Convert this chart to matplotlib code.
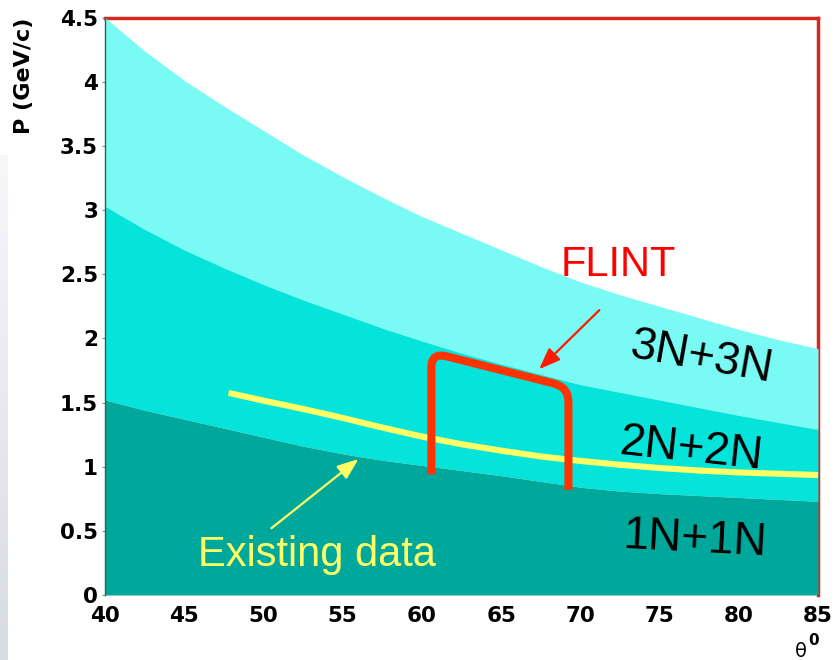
import numpy as np
import matplotlib.pyplot as plt
from matplotlib.colors import LinearSegmentedColormap
from matplotlib.path import Path
from matplotlib.patches import PathPatch

# scattering angle grid (degrees) and band boundaries in momentum (GeV/c)
theta = [40, 42.5, 45, 47.5, 50, 52.5, 55, 57.5, 60, 62.5, 65, 67.5, 70, 72.5, 75, 77.5, 80, 82.5, 85]
p_3n = [4.50, 4.24, 4.01, 3.81, 3.62, 3.43, 3.26, 3.10, 2.95, 2.82, 2.69, 2.56, 2.44, 2.34, 2.25, 2.16, 2.07, 1.99, 1.92]
p_2n = [3.03, 2.85, 2.69, 2.55, 2.42, 2.30, 2.19, 2.08, 1.98, 1.885, 1.80, 1.72, 1.64, 1.58, 1.52, 1.46, 1.40, 1.345, 1.29]
p_1n = [1.52, 1.44, 1.37, 1.30, 1.23, 1.16, 1.10, 1.05, 1.01, 0.97, 0.93, 0.885, 0.84, 0.81, 0.79, 0.775, 0.76, 0.745, 0.73]

# existing measurements
theta_data = [47.8, 50, 52.5, 55, 57.5, 60, 62.5, 65, 67.5, 70, 72.5, 75, 77.5, 80, 82.5, 85]
p_data = [1.575, 1.515, 1.45, 1.38, 1.305, 1.235, 1.175, 1.125, 1.08, 1.045, 1.015, 0.99, 0.97, 0.955, 0.945, 0.935]

# FLINT acceptance outline: left leg, top edge, right leg
flint_theta = [60.6, 60.6, 69.25, 69.25]
flint_p = [0.94, 1.89, 1.62, 0.82]

xticks = [40, 45, 50, 55, 60, 65, 70, 75, 80, 85]
yticks = [0, 0.5, 1, 1.5, 2, 2.5, 3, 3.5, 4, 4.5]
ytick_labels = ["0", "0.5", "1", "1.5", "2", "2.5", "3", "3.5", "4", "4.5"]

fig = plt.figure(figsize=(8.37, 6.60), dpi=100)

# faint strip on the left edge of the slide
strip = fig.add_axes([0, 0, 8 / 837, 505 / 660])
strip.imshow(np.linspace(0, 1, 100).reshape(-1, 1), aspect="auto",
             cmap=LinearSegmentedColormap.from_list("s", ["#f6f7f9", "#d9dbe3"]))
strip.axis("off")

ax = fig.add_axes([105 / 837, 65 / 660, 713 / 837, 577.4 / 660])

ax.fill_between(theta, p_2n, p_3n, color="#7afaf4", lw=0, zorder=1)
ax.fill_between(theta, p_1n, p_2n, color="#05e4da", lw=0, zorder=1)
ax.fill_between(theta, 0, p_1n, color="#00a89c", lw=0, zorder=1)

ax.plot(theta_data, p_data, color="#ffff66", lw=4.4, solid_capstyle="butt", zorder=3)

# FLINT outline with rounded corners
x0, x1 = flint_theta[0], flint_theta[2]
yb0, yt0, yt1, yb1 = flint_p
rx, ry = 0.95, 0.117
dx = x1 - x0
dy = yt1 - yt0
verts = [(x0, yb0), (x0, yt0 - ry), (x0, yt0), (x0 + rx, yt0 + dy * rx / dx),
         (x1 - rx, yt1 - dy * rx / dx), (x1, yt1), (x1, yt1 - ry), (x1, yb1)]
codes = [Path.MOVETO, Path.LINETO, Path.CURVE3, Path.CURVE3,
         Path.LINETO, Path.CURVE3, Path.CURVE3, Path.LINETO]
ax.add_patch(PathPatch(Path(verts, codes), fill=False, edgecolor="#ff3300",
                       lw=5.8, capstyle="butt", zorder=4))

arrow_style = "-|>,head_length=1.3,head_width=0.5"
ax.annotate("", xy=(67.4, 1.76), xytext=(71.2, 2.22),
            arrowprops=dict(arrowstyle=arrow_style, color="#ff1a00", lw=1.6,
                            shrinkA=0, shrinkB=0), zorder=5)
ax.text(72.4, 2.57, "FLINT", color="#ff0000", fontsize=30,
        family="Liberation Sans", ha="center", va="center", zorder=5)

ax.annotate("", xy=(56.0, 1.06), xytext=(50.5, 0.52),
            arrowprops=dict(arrowstyle=arrow_style, color="#ffff66", lw=1.6,
                            shrinkA=0, shrinkB=0), zorder=5)
ax.text(53.4, 0.31, "Existing data", color="#ffff66", fontsize=30,
        family="Liberation Sans", ha="center", va="center", zorder=5)

ax.text(77.6, 1.85, "3N+3N", fontsize=33, rotation=-10, family="Liberation Sans",
        ha="center", va="center", zorder=5)
ax.text(77.0, 1.13, "2N+2N", fontsize=33, rotation=-6, family="Liberation Sans",
        ha="center", va="center", zorder=5)
ax.text(77.25, 0.43, "1N+1N", fontsize=33, rotation=-3, family="Liberation Sans",
        ha="center", va="center", zorder=5)

ax.set_xlim(40, 85)
ax.set_ylim(0, 4.5)
ax.set_xticks(xticks)
ax.set_yticks(yticks)
ax.set_yticklabels(ytick_labels)
ax.tick_params(axis="x", length=0, pad=8, labelsize=15.5)
ax.tick_params(axis="y", length=2, color="#888888", pad=3, labelsize=15.5)
for lab in ax.get_xticklabels() + ax.get_yticklabels():
    lab.set_fontweight("bold")

for side in ["top", "right"]:
    ax.spines[side].set_color("#d42a1e")
    ax.spines[side].set_linewidth(2.5)
    ax.spines[side].set_zorder(0.5)
ax.spines["left"].set_color("#2f5f5c")
ax.spines["left"].set_linewidth(1)
ax.spines["bottom"].set_visible(False)

ax.set_ylabel("P (GeV/c)", fontsize=16, fontweight="bold", loc="top")
ax.yaxis.set_label_coords(-0.1, 1.0)

ax.text(0.976, -0.097, "θ", transform=ax.transAxes, fontsize=14,
        ha="center", va="center")
ax.text(0.994, -0.078, "0", transform=ax.transAxes, fontsize=11,
        fontweight="bold", ha="center", va="center")

fig.savefig("out.png", dpi=100)
